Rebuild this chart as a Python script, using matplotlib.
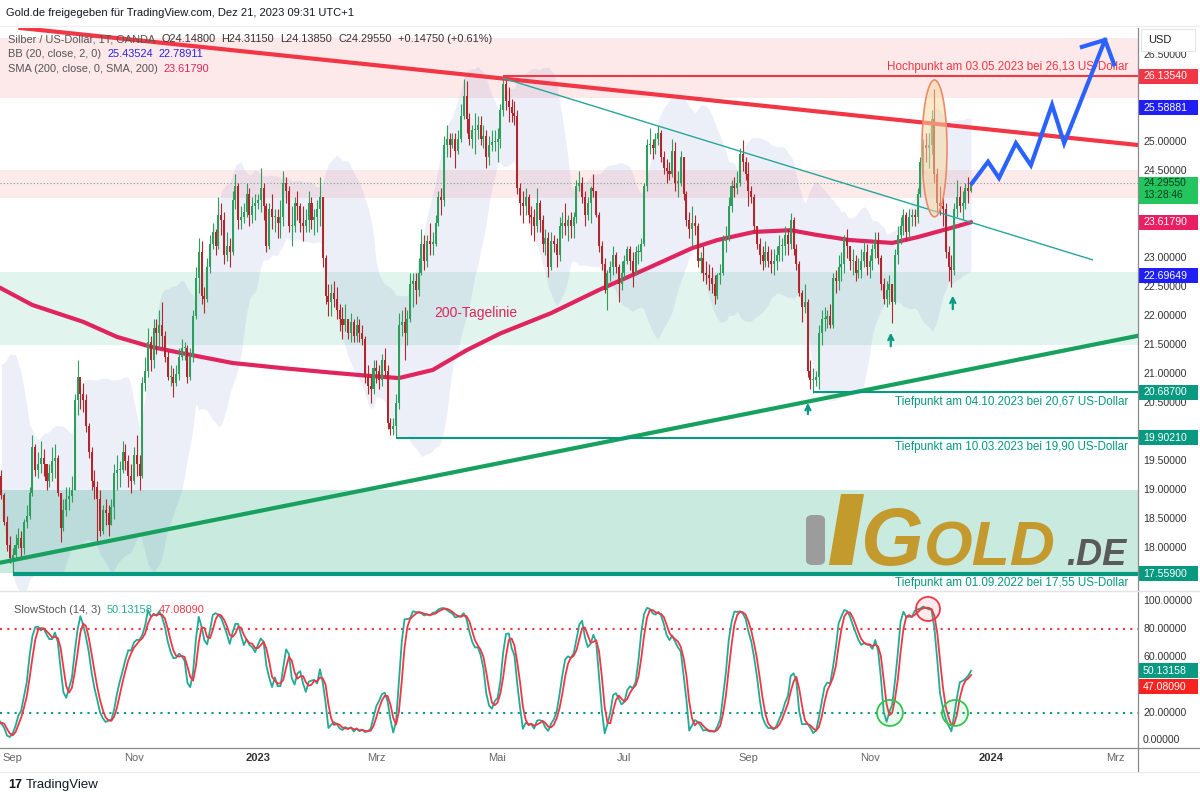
import numpy as np
import pandas as pd
import matplotlib
matplotlib.use("Agg")
import matplotlib.pyplot as plt
import matplotlib.transforms as mtransforms
from matplotlib.patches import Ellipse, Rectangle, Polygon, FancyBboxPatch

# daily candles (XAG/USD, OANDA), Aug 2022 .. Dec 21 2023, one value per weekday
close = [
    # Aug 2022
    20.35, 20.10, 19.95, 20.25, 19.85, 20.65, 20.55, 20.85, 20.65, 20.80, 20.10, 19.98, 19.72, 19.20, 19.05, 18.98, 19.12, 19.05, 19.25, 18.92, 18.45, 18.05, 17.82,
    # Sep 2022
    17.88, 18.05, 18.18, 18.00, 18.45, 18.55, 18.95, 19.75, 19.35, 19.45, 19.55, 19.45, 19.15, 19.30, 19.50, 19.55, 18.95, 18.35, 18.65, 18.85, 18.90, 19.00,
    # Oct 2022
    20.55, 20.95, 20.65, 20.55, 20.10, 19.65, 19.15, 19.05, 18.85, 18.30, 18.65, 18.60, 18.40, 18.70, 19.30, 19.35, 19.35, 19.65, 19.50, 19.25, 19.15,
    # Nov 2022
    19.60, 19.45, 19.25, 20.85, 21.05, 21.55, 21.25, 21.80, 21.70, 21.85, 21.65, 21.30, 20.95, 20.95, 20.85, 21.00, 21.30, 21.45, 21.45, 20.95, 21.30, 22.00,
    # Dec 2022
    22.65, 23.10, 22.35, 22.30, 22.85, 23.25, 23.45, 23.20, 23.75, 23.65, 23.05, 23.20, 23.10, 24.00, 24.25, 23.65, 23.70, 23.80, 24.10, 23.75, 23.90, 23.95,
    # Jan 2023
    24.00, 24.20, 23.90, 23.20, 23.85, 23.70, 23.70, 23.60, 23.70, 24.30, 24.15, 23.55, 23.55, 23.95, 23.90, 23.60, 23.55, 23.65, 23.95, 23.65, 23.70, 23.85,
    # Feb 2023
    24.05, 23.00, 22.35, 22.25, 22.40, 22.30, 22.10, 21.95, 21.85, 21.95, 21.70, 21.90, 21.65, 21.85, 21.70, 21.60, 20.95, 20.80, 20.75, 21.10,
    # Mar 2023
    21.05, 20.90, 21.25, 21.05, 20.15, 20.05, 20.10, 20.50, 21.85, 21.90, 21.70, 21.95, 22.55, 22.60, 22.45, 22.75, 23.25, 22.95, 23.30, 23.25, 23.25, 23.60, 24.05,
    # Apr 2023
    24.00, 24.95, 25.05, 24.95, 25.05, 24.85, 25.05, 25.45, 25.80, 25.40, 25.05, 25.20, 25.20, 25.30, 25.05, 25.10, 24.75, 24.95, 25.00, 25.00,
    # May 2023
    25.05, 25.55, 26.00, 25.70, 25.60, 25.50, 25.45, 24.20, 23.95, 23.90, 24.05, 23.75, 23.70, 23.55, 23.95, 23.65, 23.25, 23.35, 22.85, 23.30, 23.25, 23.05, 23.55,
    # Jun 2023
    23.60, 23.55, 23.65, 23.55, 23.70, 24.25, 24.30, 24.05, 23.75, 23.95, 24.20, 24.15, 23.75, 23.20, 22.90, 22.45, 22.75, 22.85, 23.05, 22.85, 22.55, 22.75,
    # Jul 2023
    22.95, 23.15, 22.95, 22.75, 23.10, 23.10, 23.25, 24.25, 24.95, 24.95, 24.90, 25.05, 25.15, 24.75, 24.55, 24.50, 24.45, 24.85, 24.30, 24.30, 24.75,
    # Aug 2023
    24.10, 23.65, 23.50, 23.60, 23.55, 22.95, 23.00, 22.75, 22.70, 22.65, 22.55, 22.35, 22.70, 22.75, 23.30, 23.35, 23.90, 24.25, 24.20, 24.30, 24.80, 24.65, 24.45,
    # Sep 2023
    24.15, 24.05, 23.55, 23.25, 23.05, 22.95, 23.10, 22.95, 22.90, 22.95, 23.05, 23.20, 23.20, 23.40, 23.25, 23.65, 23.15, 22.90, 22.40, 22.15, 22.25,
    # Oct 2023
    21.05, 20.90, 20.90, 20.95, 21.70, 21.95, 21.95, 22.00, 21.85, 22.65, 22.60, 22.85, 22.90, 23.35, 23.20, 22.95, 22.95, 22.75, 22.80, 22.95, 23.10, 22.85,
    # Nov 2023
    22.95, 23.15, 23.30, 23.00, 22.55, 22.30, 22.45, 22.55, 22.25, 23.05, 23.40, 23.55, 23.75, 23.45, 23.70, 23.75, 23.70, 24.10, 24.65, 24.95, 24.90, 24.95,
    # Dec 2023
    25.40, 24.45, 23.95, 23.90, 23.85, 23.10, 22.85, 22.80, 23.85, 24.05, 23.90, 23.95, 24.20, 24.148, 24.2955,
]
high = [
    20.45, 20.40, 20.25, 20.35, 20.30, 20.80, 20.75, 21.05, 20.95, 20.90, 20.85, 20.20, 20.10, 19.75, 19.30, 19.15, 19.25, 19.20, 19.35, 19.35, 18.95, 18.55, 18.20,
    18.00, 18.25, 18.35, 18.30, 18.50, 18.75, 19.05, 19.95, 19.80, 19.65, 19.85, 19.70, 19.45, 19.45, 19.75, 19.80, 19.60, 18.95, 18.85, 19.05, 19.05, 19.25,
    20.65, 21.24, 20.95, 20.85, 20.65, 20.15, 19.75, 19.35, 19.15, 19.00, 18.75, 18.85, 18.75, 18.85, 19.45, 19.60, 19.50, 19.85, 19.80, 19.60, 19.45,
    19.75, 19.95, 19.60, 20.95, 21.30, 21.80, 21.65, 21.95, 21.95, 22.10, 22.25, 21.75, 21.40, 21.15, 21.10, 21.15, 21.45, 21.60, 21.55, 21.50, 21.45, 22.10,
    22.85, 23.35, 23.30, 22.50, 23.00, 23.40, 23.60, 23.50, 24.05, 23.95, 23.80, 23.45, 23.35, 24.15, 24.45, 24.30, 23.90, 23.95, 24.30, 24.20, 24.05, 24.10,
    24.10, 24.55, 24.30, 23.95, 23.95, 24.10, 23.85, 23.85, 24.00, 24.50, 24.40, 24.25, 23.90, 24.05, 24.15, 23.95, 23.90, 23.85, 24.15, 24.05, 23.85, 24.00,
    24.40, 24.05, 23.05, 22.55, 22.55, 22.60, 22.50, 22.20, 22.15, 22.20, 21.95, 22.05, 21.95, 22.00, 21.95, 21.85, 21.65, 21.15, 21.00, 21.25,
    21.25, 21.15, 21.35, 21.45, 21.15, 20.25, 20.25, 20.65, 22.05, 22.10, 22.15, 22.10, 22.75, 22.75, 22.75, 23.00, 23.50, 23.40, 23.40, 23.60, 23.45, 23.75, 24.15,
    24.20, 25.10, 25.30, 25.15, 25.15, 25.15, 25.20, 25.65, 26.08, 26.05, 25.50, 25.30, 25.50, 25.45, 25.45, 25.30, 25.20, 25.10, 25.20, 25.20,
    25.25, 25.65, 26.13, 26.10, 25.95, 25.75, 25.70, 25.55, 24.30, 24.15, 24.20, 24.10, 23.90, 23.85, 24.20, 24.00, 23.75, 23.50, 23.45, 23.45, 23.40, 23.35, 23.70,
    23.80, 23.95, 23.75, 23.80, 23.80, 24.35, 24.50, 24.40, 24.15, 24.05, 24.25, 24.45, 24.15, 23.80, 23.30, 23.00, 22.80, 22.95, 23.20, 23.10, 22.90, 22.95,
    23.05, 23.20, 23.20, 23.10, 23.20, 23.25, 23.35, 24.30, 25.05, 25.25, 25.05, 25.15, 25.27, 25.20, 24.85, 24.70, 24.65, 25.05, 25.00, 24.50, 24.85,
    24.75, 24.15, 23.80, 23.90, 23.75, 23.60, 23.10, 23.20, 22.95, 22.90, 22.85, 22.70, 22.75, 22.90, 23.40, 23.55, 24.05, 24.35, 24.40, 24.50, 24.90, 25.03, 24.75,
    24.65, 24.25, 24.10, 23.55, 23.35, 23.20, 23.30, 23.20, 23.15, 23.15, 23.20, 23.40, 23.35, 23.55, 23.50, 23.78, 23.70, 23.25, 22.95, 22.45, 22.55,
    22.30, 21.25, 21.10, 21.05, 21.85, 22.10, 22.15, 22.10, 22.20, 22.75, 22.80, 23.05, 23.10, 23.40, 23.50, 23.20, 23.15, 23.05, 23.00, 23.15, 23.30, 23.25,
    23.05, 23.25, 23.45, 23.45, 23.05, 22.65, 22.60, 22.70, 22.45, 23.15, 23.55, 23.70, 23.85, 23.80, 23.85, 23.85, 23.85, 24.20, 24.75, 25.05, 25.15, 25.15,
    25.55, 25.92, 24.55, 24.25, 24.05, 23.95, 23.20, 23.05, 23.95, 24.35, 24.25, 24.15, 24.30, 24.40, 24.3115,
]
low = [
    20.05, 19.90, 19.80, 19.85, 19.70, 19.80, 20.40, 20.40, 20.55, 20.50, 20.00, 19.80, 19.60, 19.10, 18.95, 18.80, 18.85, 18.90, 18.95, 18.85, 18.40, 17.95, 17.75,
    17.55, 17.80, 18.00, 17.85, 17.90, 18.35, 18.50, 18.90, 19.25, 19.20, 19.30, 19.25, 19.00, 19.05, 19.15, 19.20, 18.90, 18.10, 18.30, 18.55, 18.65, 18.80,
    19.00, 20.30, 20.40, 20.35, 20.00, 19.55, 19.00, 18.85, 18.10, 18.20, 18.25, 18.40, 18.20, 18.40, 18.50, 19.00, 19.05, 19.30, 19.35, 19.05, 18.95,
    19.10, 19.25, 19.00, 19.20, 20.70, 20.95, 21.05, 21.10, 21.35, 21.45, 21.45, 21.20, 20.90, 20.80, 20.60, 20.80, 20.90, 21.25, 21.25, 20.85, 20.90, 21.20,
    21.95, 22.40, 22.20, 22.05, 22.25, 22.75, 23.15, 23.05, 23.15, 23.40, 22.90, 22.95, 22.85, 23.05, 23.85, 23.50, 23.50, 23.60, 23.70, 23.55, 23.60, 23.65,
    23.85, 23.80, 23.65, 23.10, 23.15, 23.50, 23.45, 23.35, 23.35, 23.55, 23.95, 23.45, 23.20, 23.45, 23.65, 23.45, 23.30, 23.45, 23.45, 23.50, 23.40, 23.45,
    23.55, 22.85, 22.20, 22.00, 22.00, 22.15, 21.95, 21.75, 21.60, 21.75, 21.60, 21.55, 21.55, 21.55, 21.55, 21.50, 20.85, 20.65, 20.50, 20.65,
    20.85, 20.75, 20.80, 20.95, 20.05, 19.95, 19.95, 19.90, 20.40, 21.65, 21.25, 21.50, 21.90, 22.15, 22.20, 22.35, 22.70, 22.80, 22.85, 23.05, 23.05, 23.20, 23.55,
    23.75, 23.90, 24.75, 24.75, 24.90, 24.55, 24.80, 25.00, 25.40, 25.15, 24.95, 24.90, 24.80, 25.05, 24.95, 24.90, 24.55, 24.60, 24.85, 24.85,
    24.65, 24.90, 25.45, 25.55, 25.35, 25.35, 25.30, 24.10, 23.75, 23.60, 23.75, 23.60, 23.40, 23.30, 23.45, 23.45, 23.10, 23.05, 22.68, 22.80, 23.10, 22.85, 22.95,
    23.35, 23.40, 23.30, 23.35, 23.35, 23.60, 24.15, 23.95, 23.55, 23.65, 23.60, 24.05, 23.70, 23.10, 22.80, 22.40, 22.10, 22.60, 22.70, 22.75, 22.25, 22.45,
    22.65, 22.90, 22.80, 22.50, 22.70, 22.90, 22.95, 23.20, 24.15, 24.80, 24.70, 24.80, 24.95, 24.65, 24.45, 24.30, 24.35, 24.40, 24.15, 24.05, 24.25,
    24.00, 23.55, 23.35, 23.20, 23.40, 22.85, 22.75, 22.60, 22.55, 22.45, 22.40, 22.20, 22.30, 22.55, 22.70, 23.10, 23.30, 23.80, 24.05, 24.10, 24.25, 24.50, 24.35,
    23.90, 23.95, 23.45, 23.15, 22.90, 22.80, 22.85, 22.85, 22.75, 22.70, 22.80, 22.95, 22.95, 23.05, 23.05, 23.15, 23.05, 22.80, 22.35, 21.90, 22.05,
    20.95, 20.75, 20.67, 20.80, 20.75, 21.50, 21.75, 21.80, 21.80, 21.80, 22.40, 22.45, 22.60, 22.75, 23.00, 22.80, 22.70, 22.60, 22.65, 22.65, 22.85, 22.70,
    22.65, 22.80, 23.00, 22.90, 22.45, 22.20, 22.15, 22.20, 21.88, 22.20, 22.90, 23.25, 23.40, 23.30, 23.35, 23.55, 23.55, 23.60, 24.05, 24.45, 24.65, 24.55,
    24.80, 24.30, 23.80, 23.75, 23.55, 23.00, 22.60, 22.50, 22.70, 23.70, 23.80, 23.65, 23.85, 23.95, 24.1385,
]

# SMA 200 (weekday offset from 2022-09-01, value)
sma_day = [-5, 7, 25, 37, 49, 60, 78, 96, 114, 126, 137, 149, 161, 173, 191, 208, 226, 241, 250, 263, 276, 285, 297, 312, 321, 333, 340]
sma_val = [22.50, 22.19, 21.90, 21.64, 21.47, 21.36, 21.19, 21.10, 21.02, 20.97, 20.93, 21.07, 21.41, 21.70, 22.05, 22.45, 22.84, 23.17,
           23.31, 23.45, 23.48, 23.40, 23.31, 23.26, 23.36, 23.52, 23.6179]

# blue forecast zigzag (weekday offset, price)
zig_day = [340.3, 346.0, 349.9, 355.9, 361.2, 368.7, 373.0, 387.5]
zig_val = [24.29, 24.66, 24.38, 24.98, 24.60, 25.64, 24.98, 26.76]

month_ticks = ["2022-09-01", "2022-11-01", "2023-01-02", "2023-03-01", "2023-05-01", "2023-07-03",
               "2023-09-01", "2023-11-01", "2024-01-01", "2024-03-01"]
month_labels = ["Sep", "Nov", "2023", "Mrz", "Mai", "Jul", "Sep", "Nov", "2024", "Mrz"]

START = "2022-09-01"


def bx(d):
    return float(np.busday_count(START, np.datetime64(d, "D")))


plt.rcParams["font.family"] = ["Liberation Sans", "DejaVu Sans"]

c = np.array(close)
n = min(len(close), len(high), len(low))
c = c[-n:]
dates = pd.bdate_range(end="2023-12-21", periods=n)
x = np.busday_count(START, dates.values.astype("datetime64[D]")).astype(float)
o = np.r_[c[0], c[:-1]]
hi = np.maximum.reduce([np.array(high[-n:]), o, c])
lo = np.minimum.reduce([np.array(low[-n:]), o, c])

s = pd.Series(c)
mid = s.rolling(20).mean()
sd = s.rolling(20).std(ddof=0)
bb_up = (mid + 2 * sd).values
bb_dn = (mid - 2 * sd).values

ll = pd.Series(lo).rolling(14).min()
hh = pd.Series(hi).rolling(14).max()
fast_k = 100 * (s - ll) / (hh - ll)
k = fast_k.rolling(3).mean()
d = k.rolling(3).mean()

GREEN = "#2e9e5c"
RED = "#b3262c"
TEAL = "#089981"
PINK = "#e0245e"

fig = plt.figure(figsize=(12, 8), dpi=100)
W, H = 1200.0, 800.0


def fx(px):
    return px / W


def fy(py):
    return 1 - py / H


ax = fig.add_axes([0, fy(590), fx(1138), (590 - 28) / H])
ax2 = fig.add_axes([0, fy(748), fx(1138), (748 - 592) / H])
XL = (-4.5, 399.2)
for a in (ax, ax2):
    a.set_xlim(*XL)
    for sp in a.spines.values():
        sp.set_visible(False)
    a.set_xticks([])
    a.set_yticks([])
ax.set_ylim(17.276, 26.966)
ax2.set_ylim(-5.4, 106.8)

# zones
ax.axhspan(25.76, 26.79, color="#fde9e9", lw=0, zorder=0)
ax.axhspan(24.03, 24.52, color="#fdeaea", lw=0, zorder=0)
ax.axhspan(21.50, 22.76, color="#e2f4ee", lw=0, zorder=0)
ax.axhspan(17.57, 19.00, color="#c9eadf", lw=0, zorder=0)

# bollinger fill
ax.fill_between(x, bb_dn, bb_up, color="#3f51b5", alpha=0.09, lw=0, zorder=1)

# current price dotted line
ax.axhline(c[-1], color="#6aa88a", lw=0.8, ls=(0, (1, 2)), zorder=2)

# SMA 200
ax.plot(sma_day, sma_val, color=PINK, lw=3, zorder=3, solid_capstyle="round")

# candles
up = c >= o
cols = np.where(up, GREEN, RED)
ax.vlines(x, lo, hi, colors=cols, lw=0.8, zorder=4)
ax.bar(x, np.maximum(np.abs(c - o), 0.02), bottom=np.minimum(o, c), width=0.72, color=cols, lw=0, zorder=4)

# trend lines
ax.axline((bx("2022-09-01"), 26.98), (bx("2024-03-01"), 24.99), color="#f23645", lw=3, zorder=5)
ax.axline((0, 17.79), (391, 21.58), color="#17a05e", lw=3, zorder=5)
ax.plot([bx("2023-05-03"), bx("2024-02-20")], [26.10, 22.97], color="#26a69a", lw=1, zorder=5)

# horizontal levels
ax.hlines(26.1354, bx("2023-05-03"), XL[1], color="#f23645", lw=1.5, zorder=5)
ax.hlines(20.687, bx("2023-10-04"), XL[1], color=TEAL, lw=1.5, zorder=5)
ax.hlines(19.9021, bx("2023-03-10"), XL[1], color=TEAL, lw=1.5, zorder=5)
ax.hlines(17.559, 0, XL[1], color=TEAL, lw=3, zorder=5)

tr = mtransforms.blended_transform_factory(ax.transAxes, ax.transData)
lab = dict(transform=tr, ha="right", va="center", fontsize=8.4, zorder=7)
ax.text(1128 / 1138, 26.29, "Hochpunkt am 03.05.2023 bei 26,13 US-Dollar", color="#f23645", **lab)
ax.text(1128 / 1138, 20.52, "Tiefpunkt am 04.10.2023 bei 20,67 US-Dollar", color=TEAL, **lab)
ax.text(1128 / 1138, 19.74, "Tiefpunkt am 10.03.2023 bei 19,90 US-Dollar", color=TEAL, **lab)
ax.text(1128 / 1138, 17.40, "Tiefpunkt am 01.09.2022 bei 17,55 US-Dollar", color=TEAL, **lab)

ax.text(164.4, 22.05, "200-Tagelinie", color=PINK, fontsize=10, ha="center", va="center", zorder=7)

# highlight ellipse around December spike
ax.add_patch(Ellipse((327.0, 24.89), 8.9, 2.36, facecolor="#f6d7a0", alpha=0.55, edgecolor="none", zorder=6))
ax.add_patch(Ellipse((327.0, 24.89), 8.9, 2.36, facecolor="none", edgecolor="#ec8a6a", lw=1.2, zorder=6))

# green arrows
for ax_x, y0, y1 in [(282.1, 20.26, 20.55), (311.5, 21.43, 21.76), (333.5, 22.07, 22.40)]:
    ax.annotate("", xy=(ax_x, y1), xytext=(ax_x, y0),
                arrowprops=dict(arrowstyle="->", color=TEAL, lw=1.6, mutation_scale=9), zorder=7)

# blue zigzag forecast
ax.plot(zig_day, zig_val, color="#2962ff", lw=3, zorder=7, solid_joinstyle="miter")
ax.plot([379.3, 387.5, 390.7], [26.64, 26.76, 26.34], color="#2962ff", lw=3, zorder=7, solid_joinstyle="miter")

# stochastic panel
ax2.axhline(80, color="#f23645", lw=1.5, ls=(0, (1, 2.5)))
ax2.axhline(20, color=TEAL, lw=1.5, ls=(0, (1, 2.5)))
ax2.plot(x, k, color="#22ab94", lw=1.3, zorder=3)
ax2.plot(x, d, color="#f23645", lw=1.3, zorder=3)
ax2.add_patch(Ellipse((324.7, 94.6), 8.5, 17.3, facecolor="#ff000014", edgecolor="#f23645", lw=1.3, zorder=4))
for cx in (311.2, 334.3):
    ax2.add_patch(Ellipse((cx, 19.8), 9.2, 18.7, facecolor="#3cc85a18", edgecolor="#34c44e", lw=1.3, zorder=4))


def badge(a, trans, yv, text, bg, ppu, fg="white", hpx=15):
    hh_ = hpx / ppu
    a.add_patch(Rectangle((1.0, yv - hh_ / 2), 60 / 1138, hh_, transform=trans, facecolor=bg,
                          edgecolor="none", clip_on=False, zorder=10))
    a.text(1143 / 1138, yv, text, transform=trans, ha="left", va="center", fontsize=7.6, color=fg,
           clip_on=False, zorder=11)


# right price scale (labels hidden where a value badge sits on top)
main_badges = [26.1354, 25.58881, 23.6179, 22.69649, 20.687, 19.9021, 17.559]
last_box = (23.92, 24.45)
tick_kw = dict(transform=tr, ha="left", va="center", fontsize=7.6, color="#333333", clip_on=False)
for p in np.arange(17.5, 26.6, 0.5):
    if min(abs(p - b) for b in main_badges) * 58 < 10:
        continue
    if last_box[0] < p < last_box[1]:
        continue
    ax.text(1143 / 1138, p, f"{p:.5f}", **tick_kw)

tr2 = mtransforms.blended_transform_factory(ax2.transAxes, ax2.transData)
k_last, d_last = k.iloc[-1], d.iloc[-1]
k_pos = k_last
d_pos = min(d_last, k_last - 16 / 1.39)
for p in range(0, 101, 20):
    if min(abs(p - k_pos), abs(p - d_pos)) * 1.39 < 12:
        continue
    ax2.text(1143 / 1138, p, f"{p:.5f}", transform=tr2, ha="left", va="center", fontsize=7.6,
             color="#333333", clip_on=False)

badge(ax, tr, 26.1354, "26.13540", "#f23645", 58)
badge(ax, tr, 25.58881, "25.58881", "#1f1ff5", 58)
badge(ax, tr, 23.6179, "23.61790", "#e91e63", 58)
badge(ax, tr, 22.69649, "22.69649", "#1f1ff5", 58)
badge(ax, tr, 20.687, "20.68700", TEAL, 58)
badge(ax, tr, 19.9021, "19.90210", TEAL, 58)
badge(ax, tr, 17.559, "17.55900", TEAL, 58)
ax.add_patch(Rectangle((1.0, 23.94), 60 / 1138, 27 / 58, transform=tr, facecolor="#22c55e",
                       edgecolor="none", clip_on=False, zorder=10))
ax.text(1143 / 1138, 24.30, f"{c[-1]:.5f}", transform=tr, ha="left", va="center", fontsize=7.4,
        color="#0d3b1e", clip_on=False, zorder=11)
ax.text(1143 / 1138, 24.08, "13:28:46", transform=tr, ha="left", va="center", fontsize=7.4,
        color="#0d3b1e", clip_on=False, zorder=11)
badge(ax2, tr2, k_pos, f"{k_last:.5f}", TEAL, 1.39)
badge(ax2, tr2, d_pos, f"{d_last:.5f}", "#f7231f", 1.39)

# USD box
fig.patches.append(Rectangle((fx(1141), fy(51)), fx(54), 22 / H, transform=fig.transFigure,
                             facecolor="white", edgecolor="#e6e6e6", lw=0.8, zorder=20))
fig.text(fx(1148), fy(40), "USD", fontsize=8, color="#222222", va="center", zorder=21)

# time axis labels
for t, lbl in zip(month_ticks, month_labels):
    bold = lbl.isdigit()
    ax2.text(bx(t), -5.4 - 10 / 1.39, lbl, ha="center", va="center", fontsize=8,
             color="#333333" if bold else "#666666", fontweight="bold" if bold else "normal",
             clip_on=False)

# frame lines
fig.add_artist(plt.Line2D([fx(1138), fx(1138)], [fy(28), fy(772)], color="#8a8a8a", lw=0.9))
fig.add_artist(plt.Line2D([0, 1], [fy(591), fy(591)], color="#e3e3e3", lw=1))
fig.add_artist(plt.Line2D([0, 1], [fy(748), fy(748)], color="#8a8a8a", lw=0.9))
fig.add_artist(plt.Line2D([0, 1], [fy(772), fy(772)], color="#ececec", lw=0.8))
fig.add_artist(plt.Line2D([0, 1], [fy(26), fy(26)], color="#ececec", lw=0.8))

renderer = fig.canvas.get_renderer()


def text_row(xpx, ypx, parts, fs=7.9):
    # lay out coloured pieces one after another on a single line
    xc = xpx
    for txt, col in parts:
        t = fig.text(fx(xc), fy(ypx), txt, color=col, fontsize=fs, va="center", zorder=12)
        xc = t.get_window_extent(renderer=renderer).x1 + 6


# header and legends
fig.text(fx(6), fy(13), "Gold.de freigegeben für TradingView.com, Dez 21, 2023 09:31 UTC+1",
         fontsize=8.0, color="#131722", va="center")
chg = c[-1] - c[-2]
text_row(8, 39, [("Silber / US-Dollar, 1T, OANDA", "#555555"), (f"O{o[-1]:.5f}", "#333333"),
                 (f"H{hi[-1]:.5f}", "#333333"), (f"L{lo[-1]:.5f}", "#333333"), (f"C{c[-1]:.5f}", "#333333"),
                 (f"+{chg:.5f} (+{chg / c[-2] * 100:.2f}%)", "#333333")])
text_row(8, 54, [("BB (20, close, 2, 0)", "#555555"), (f"{bb_up[-1]:.5f}", "#2424e8"),
                 (f"{bb_dn[-1]:.5f}", "#2424e8")])
text_row(8, 69, [("SMA (200, close, 0, SMA, 200)", "#555555"), (f"{sma_val[-1]:.5f}", PINK)])
text_row(14, 610, [("SlowStoch (14, 3)", "#555555"), (f"{k_last:.5f}", "#22ab94"), (f"{d_last:.5f}", "#f23645")])

# Gold.de logo
fig.patches.append(FancyBboxPatch((fx(806), fy(565)), fx(19), 50 / H, boxstyle="round,pad=0,rounding_size=0.006",
                                  transform=fig.transFigure, facecolor="#9c9c9c", edgecolor="none", zorder=8))
fig.patches.append(Polygon([(fx(829), fy(565)), (fx(852), fy(565)), (fx(864), fy(494)), (fx(841), fy(494))],
                           closed=True, transform=fig.transFigure, facecolor="#c39a2c", edgecolor="none", zorder=8))
fig.text(fx(860), fy(565), "G", fontsize=58, fontweight="bold", style="italic", color="#c49a2f", va="baseline", zorder=9)
fig.text(fx(924), fy(565), "OLD", fontsize=45, fontweight="bold", style="italic", color="#c49a2f", va="baseline", zorder=9)
fig.text(fx(1066), fy(565), ".DE", fontsize=26, fontweight="bold", style="italic", color="#5a5a5a", va="baseline", zorder=9)

# TradingView footer
fig.text(fx(8), fy(785), "17", fontsize=9, fontweight="bold", color="#131722", va="center")
fig.text(fx(26), fy(785), "TradingView", fontsize=9.5, color="#131722", va="center")

fig.savefig("out.png", dpi=100)
